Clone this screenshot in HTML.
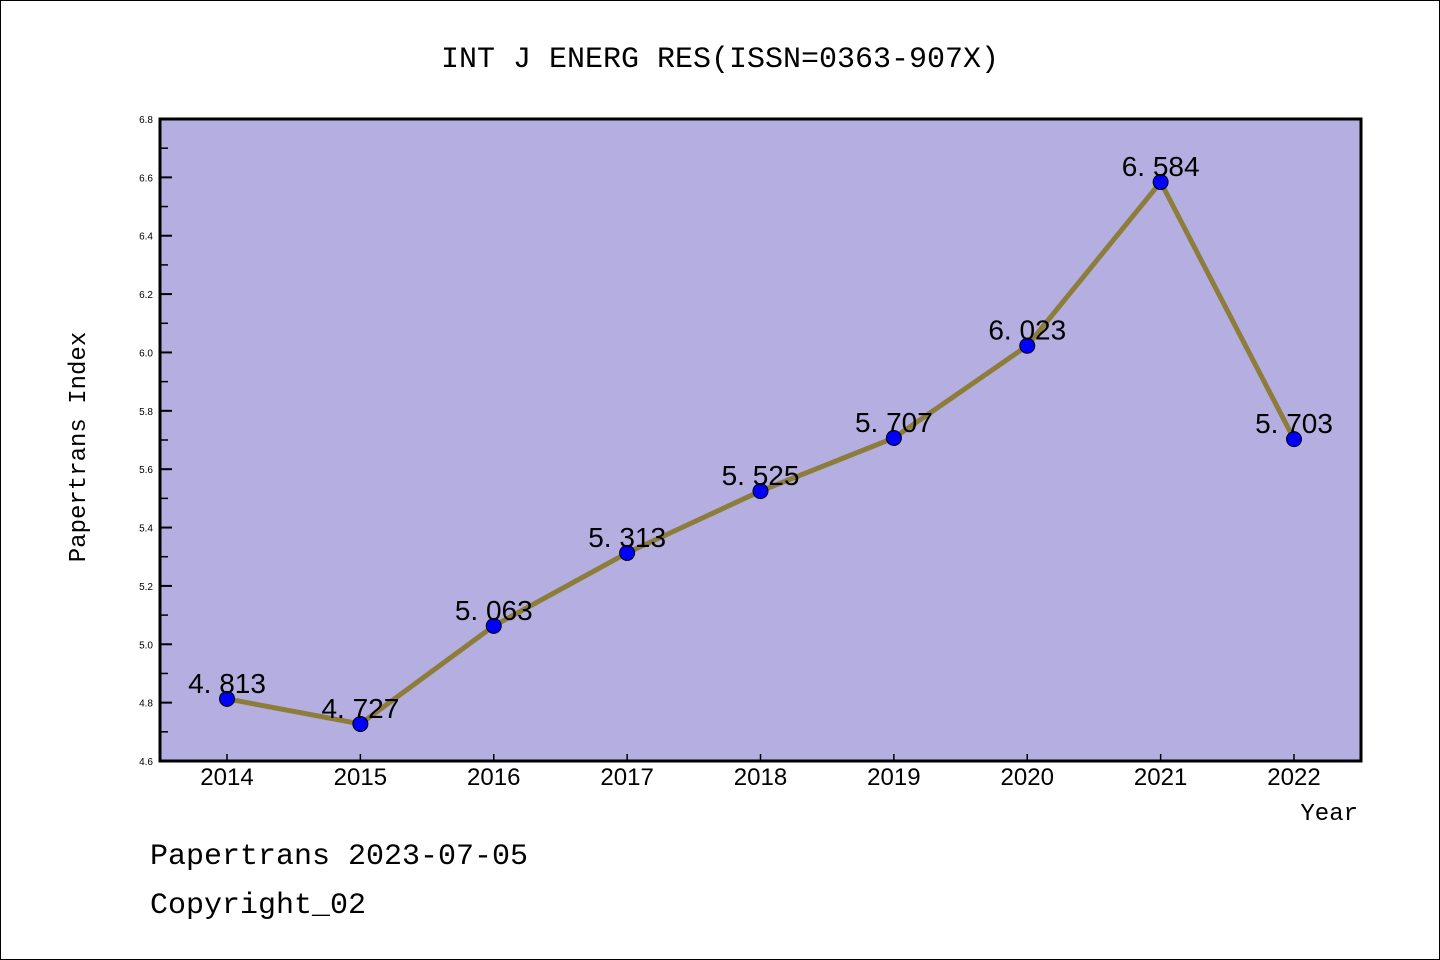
<!DOCTYPE html>
<html><head><meta charset="utf-8"><style>
body{margin:0;background:#fff}
svg{display:block}
text{font-family:"Liberation Mono","DejaVu Sans Mono",monospace}
text.s{font-family:"Liberation Sans","DejaVu Sans",sans-serif}
</style></head><body>
<svg id="c" width="1440" height="960" xmlns="http://www.w3.org/2000/svg">
<rect x="0.5" y="0.5" width="1439" height="959" fill="#fff" stroke="#000"/>
<text x="720" y="67" text-anchor="middle" font-size="30">INT J ENERG RES(ISSN=0363-907X)</text>
<rect x="160" y="119" width="1201" height="642" fill="#b5afe1"/>
<g id="ax"></g>
<rect x="160" y="119" width="1201" height="642" fill="none" stroke="#000" stroke-width="3"/>
<text transform="translate(85,447) rotate(-90)" text-anchor="middle" font-size="24">Papertrans Index</text>
<text x="1358" y="820" text-anchor="end" font-size="24">Year</text>
<text x="150" y="864" font-size="30">Papertrans 2023-07-05</text>
<text x="150" y="913" font-size="30">Copyright_02</text>
</svg>
<script>
const years=["2014","2015","2016","2017","2018","2019","2020","2021","2022"];
const values=[4.813,4.727,5.063,5.313,5.525,5.707,6.023,6.584,5.703];
const valueLabels=["4.813","4.727","5.063","5.313","5.525","5.707","6.023","6.584","5.703"];
const yTicks=["4.6","4.8","5.0","5.2","5.4","5.6","5.8","6.0","6.2","6.4","6.6","6.8"];
const NS="http://www.w3.org/2000/svg";
const g=document.getElementById('ax');
const yMin=4.6,yMax=6.8,pTop=119,pBot=761,pLeft=160;
function X(i){return 227+i*(1294-227)/(years.length-1);}
function Y(v){return pBot-(v-yMin)/(yMax-yMin)*(pBot-pTop);}
function el(t,a){const e=document.createElementNS(NS,t);for(const k in a)e.setAttribute(k,a[k]);g.appendChild(e);return e;}
yTicks.forEach((t,i)=>{const v=parseFloat(t),y=Y(v);
 const tl=el('line',{x1:pLeft,x2:pLeft+12,y1:y,y2:y,stroke:'#000','stroke-width':2});
 
 
 const tx=el('text',{x:pLeft-7,y:y+4,'text-anchor':'end','font-size':10,'class':'s'});tx.textContent=t;
 
 
 if(i<yTicks.length-1){const ym=Y(v+0.1);
  const ml=el('line',{x1:pLeft,x2:pLeft+8,y1:ym,y2:ym,stroke:'#000','stroke-width':1.5});
  
  }
});
years.forEach((yr,i)=>{const x=X(i);
 const tl=el('line',{x1:x,x2:x,y1:pBot,y2:pBot-7,stroke:'#000','stroke-width':1.5});
 
 
 const tx=el('text',{x:x,y:785,'text-anchor':'middle','font-size':24,'class':'s'});tx.textContent=yr;
 
 
});
const line=el('polyline',{points:values.map((v,i)=>X(i)+','+Y(v)).join(' '),fill:'none',stroke:'#8c7d3a','stroke-width':5,'stroke-linejoin':'round'});


values.forEach((v,i)=>{
 const c=el('circle',{cx:X(i),cy:Y(v),r:7.5,fill:'#0000ff',stroke:'#000','stroke-width':1});
 
 
 const t=el('text',{x:X(i),y:Y(v)-6,'text-anchor':'middle','font-size':28,'class':'s'});
 t.textContent=valueLabels[i].replace('.','. ');
 
 
});
</script>
</body></html>
